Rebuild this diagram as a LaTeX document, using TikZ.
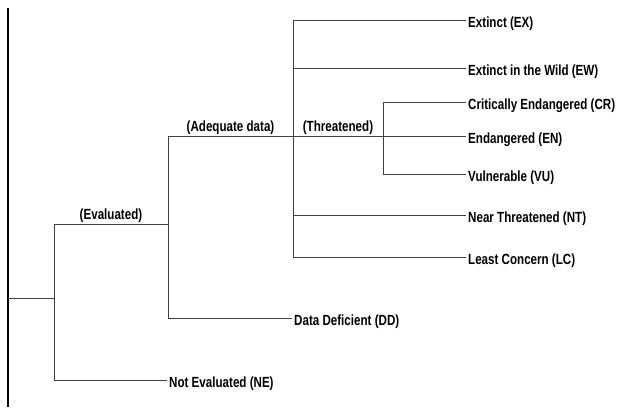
\documentclass[tikz,border=0pt]{standalone}
\usepackage{fontspec}
\usepackage{graphicx}
\setsansfont{Liberation Sans}
\usepackage{tikz}
\usetikzlibrary{positioning,calc}

\newcommand{\tall}[1]{\scalebox{1}[1.27]{#1}}

\begin{document}
\begin{tikzpicture}[x=1pt, y=-1pt, line/.style = {draw=black!75, line width=0.8pt}, font=\sffamily\bfseries\fontsize{11.6}{14}\selectfont]
		\tikzset{leaf/.style={anchor=west,inner xsep=2pt,inner ysep=0pt,text height=15.4pt,text depth=0pt,text=black}}
		\tikzset{branch/.style={inner sep=0pt,text depth=0pt,text=black}}
		\useasboundingbox (0,0) rectangle (620,407);

		\coordinate (top) at (8,8);
		\coordinate (bottom) at (8,407);
		\coordinate (root) at (8,298);
		\coordinate (eval) at (54,298);
		\coordinate (adq) at (168,224);
		\coordinate (thr) at (293,136);
		\coordinate (sub) at (383,136);

		\node[leaf] (ex) at (466,20) {\tall{Extinct (EX)}};
		\node[leaf] (ew) at (466,68) {\tall{Extinct in the Wild (EW)}};
		\node[leaf] (cr) at (466,102) {\tall{Critically Endangered (CR)}};
		\node[leaf] (en) at (466,136) {\tall{Endangered (EN)}};
		\node[leaf] (vu) at (466,174) {\tall{Vulnerable (VU)}};
		\node[leaf] (nt) at (466,215) {\tall{Near Threatened (NT)}};
		\node[leaf] (lc) at (466,257) {\tall{Least Concern (LC)}};
		\node[leaf] (dd) at (292,318) {\tall{Data Deficient (DD)}};
		\node[leaf] (ne) at (167,380) {\tall{Not Evaluated (NE)}};

		\node[branch, above=4pt of $(eval|-adq)!0.5!(adq)$] (evlab) {\tall{(Evaluated)}};
		\node[branch, above=4pt of $(adq|-thr)!0.5!(thr)$] (adlab) {\tall{(Adequate data)}};
		\node[branch, above=4pt of $(thr)!0.5!(sub)$] (thlab) {\tall{(Threatened)}};

		\draw [black, line width=1.2pt] (top) -- (bottom);
		\draw [line] (root) -- (eval);
		\draw [line] (eval) |- (adq);
		\draw [line] (eval) |- (ne.west);
		\draw [line] (adq) |- (dd.west);
		\draw [line] (adq) |- (en.west);
		\draw [line] (thr) |- (ex.west);
		\draw [line] (thr) |- (ew.west);
		\draw [line] (thr) |- (nt.west);
		\draw [line] (thr) |- (lc.west);
		\draw [line] (sub) |- (cr.west);
		\draw [line] (sub) |- (vu.west);

	\end{tikzpicture}
\end{document}
